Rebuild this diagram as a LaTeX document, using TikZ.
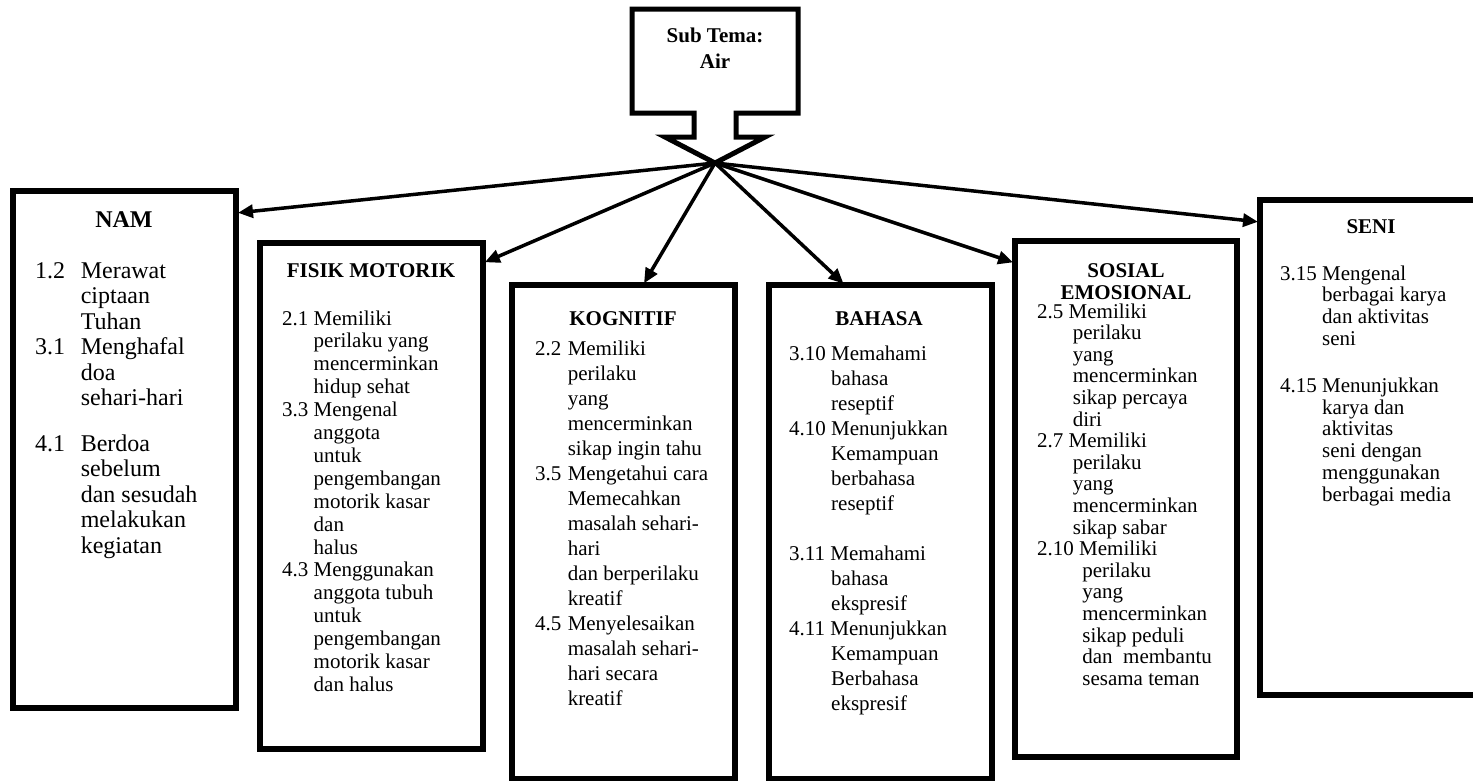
\documentclass[tikz,border=0pt]{standalone}
\usepackage{fontspec}
\setmainfont{Liberation Serif}
\usetikzlibrary{arrows.meta}

% number box for the hanging items
\newcommand{\nr}[2][1.6em]{\makebox[#1][l]{#2}}
% stacked lines, baseline on the first line
\newcommand{\lst}[1]{\begin{tabular}[t]{@{}l@{}}#1\end{tabular}}
\newcommand{\hd}[1]{\begin{tabular}[t]{@{}c@{}}#1\end{tabular}}

\begin{document}
\begin{tikzpicture}[x=1pt, y=-1pt,
  box/.style={draw, line width=5.5pt, outer sep=0pt, inner sep=0pt, anchor=north west},
  arrow/.style={-{Triangle[length=15pt, width=13pt]}, line width=3.5pt, shorten >=2pt},
  head/.style={font=\bfseries\fontsize{21}{22}\selectfont, anchor=base, inner sep=0pt},
  list/.style={font=\fontsize{21}{23}\selectfont, anchor=base west, inner sep=0pt}
]
\useasboundingbox (0,0) rectangle (1473,780);

% callout on top
\draw[line width=5pt, line join=miter] (632,9) -- (798,9) -- (798,113) -- (736,113)
  -- (736,137) -- (765,137) -- (715,163) -- (665,137) -- (694,137) -- (694,113)
  -- (632,113) -- cycle;
\node[head, font=\bfseries\fontsize{21}{26}\selectfont] (subtema) at (715,42) {\hd{Sub Tema:\\Air}};
\coordinate (hub) at (715,163);

% boxes
\node[box, minimum width=223pt, minimum height=517pt] (nam)      at (13,191)   {};
\node[box, minimum width=223pt, minimum height=506pt] (fisik)    at (260,243)  {};
\node[box, minimum width=223pt, minimum height=494pt] (kognitif) at (512,285)  {};
\node[box, minimum width=223pt, minimum height=494pt] (bahasa)   at (769,285)  {};
\node[box, minimum width=222pt, minimum height=516pt] (sosial)   at (1015,241) {};
\node[box, minimum width=240pt, minimum height=495pt] (seni)     at (1260,200) {};

% titles
\node[head, font=\bfseries\fontsize{24}{25}\selectfont] (namhead) at (124,227) {NAM};
\node[head] (fisikhead)    at (371,277)  {FISIK MOTORIK};
\node[head] (kognitifhead) at (623,325)  {KOGNITIF};
\node[head] (bahasahead)   at (879,325)  {BAHASA};
\node[head] (sosialhead)   at (1126,277) {\hd{SOSIAL\\EMOSIONAL}};
\node[head] (senihead)     at (1371,233) {SENI};

% contents
\node[list, font=\fontsize{24}{25.5}\selectfont] (namtext) at (35,278) {\lst{%
  \nr[1.9em]{1.2}Merawat\\
  \nr[1.9em]{}ciptaan\\
  \nr[1.9em]{}Tuhan\\
  \nr[1.9em]{3.1}Menghafal\\
  \nr[1.9em]{}doa\\
  \nr[1.9em]{}sehari-hari\\[20pt]
  \nr[1.9em]{4.1}Berdoa\\
  \nr[1.9em]{}sebelum\\
  \nr[1.9em]{}dan sesudah\\
  \nr[1.9em]{}melakukan\\
  \nr[1.9em]{}kegiatan}};

\node[list, font=\fontsize{21}{22.9}\selectfont] (fisiktext) at (282,325) {\lst{%
  \nr[1.5em]{2.1}Memiliki\\
  \nr[1.5em]{}perilaku yang\\
  \nr[1.5em]{}mencerminkan\\
  \nr[1.5em]{}hidup sehat\\
  \nr[1.5em]{3.3}Mengenal\\
  \nr[1.5em]{}anggota\\
  \nr[1.5em]{}untuk\\
  \nr[1.5em]{}pengembangan\\
  \nr[1.5em]{}motorik kasar\\
  \nr[1.5em]{}dan\\
  \nr[1.5em]{}halus\\
  \nr[1.5em]{4.3}Menggunakan\\
  \nr[1.5em]{}anggota tubuh\\
  \nr[1.5em]{}untuk\\
  \nr[1.5em]{}pengembangan\\
  \nr[1.5em]{}motorik kasar\\
  \nr[1.5em]{}dan halus}};

\node[list, font=\fontsize{21}{25}\selectfont] (kognitiftext) at (535,355) {\lst{%
  \nr[1.55em]{2.2}Memiliki\\
  \nr[1.55em]{}perilaku\\
  \nr[1.55em]{}yang\\
  \nr[1.55em]{}mencerminkan\\
  \nr[1.55em]{}sikap ingin tahu\\
  \nr[1.55em]{3.5}Mengetahui cara\\
  \nr[1.55em]{}Memecahkan\\
  \nr[1.55em]{}masalah sehari-\\
  \nr[1.55em]{}hari\\
  \nr[1.55em]{}dan berperilaku\\
  \nr[1.55em]{}kreatif\\
  \nr[1.55em]{4.5}Menyelesaikan\\
  \nr[1.55em]{}masalah sehari-\\
  \nr[1.55em]{}hari secara\\
  \nr[1.55em]{}kreatif}};

\node[list, font=\fontsize{21}{25}\selectfont] (bahasatext) at (789,360) {\lst{%
  3.10 Memahami\\
  \nr[2em]{}bahasa\\
  \nr[2em]{}reseptif\\
  4.10 Menunjukkan\\
  \nr[2em]{}Kemampuan\\
  \nr[2em]{}berbahasa\\
  \nr[2em]{}reseptif\\[25pt]
  3.11 Memahami\\
  \nr[2em]{}bahasa\\
  \nr[2em]{}ekspresif\\
  4.11 Menunjukkan\\
  \nr[2em]{}Kemampuan\\
  \nr[2em]{}Berbahasa\\
  \nr[2em]{}ekspresif}};

\node[list, font=\fontsize{21}{21.6}\selectfont] (sosialtext) at (1037,318) {\lst{%
  \nr[1.5em]{2.5}Memiliki\\
  \nr[1.7em]{}perilaku\\
  \nr[1.7em]{}yang\\
  \nr[1.7em]{}mencerminkan\\
  \nr[1.7em]{}sikap percaya\\
  \nr[1.7em]{}diri\\
  \nr[1.5em]{2.7}Memiliki\\
  \nr[1.7em]{}perilaku\\
  \nr[1.7em]{}yang\\
  \nr[1.7em]{}mencerminkan\\
  \nr[1.7em]{}sikap sabar\\
  2.10 Memiliki\\
  \nr[2.15em]{}perilaku\\
  \nr[2.15em]{}yang\\
  \nr[2.15em]{}mencerminkan\\
  \nr[2.15em]{}sikap peduli\\
  \nr[2.15em]{}dan\ \ membantu\\
  \nr[2.15em]{}sesama teman}};

\node[list, font=\fontsize{21}{21.8}\selectfont] (senitext) at (1280,280) {\lst{%
  3.15 Mengenal\\
  \nr[2em]{}berbagai karya\\
  \nr[2em]{}dan aktivitas\\
  \nr[2em]{}seni\\[25pt]
  4.15 Menunjukkan\\
  \nr[2em]{}karya dan\\
  \nr[2em]{}aktivitas\\
  \nr[2em]{}seni dengan\\
  \nr[2em]{}menggunakan\\
  \nr[2em]{}berbagai media}};

% connectors
\draw[arrow] (hub) -- (nam.north east |- 0,213);
\draw[arrow] (hub) -- (fisik.north east |- 0,263);
\draw[arrow] (hub) -- (kognitif.north west -| 643,0);
\draw[arrow] (hub) -- (bahasa.north west -| 845,0);
\draw[arrow] (hub) -- (sosial.north west |- 0,263);
\draw[arrow] (hub) -- (seni.north west |- 0,222);
\end{tikzpicture}
\end{document}
